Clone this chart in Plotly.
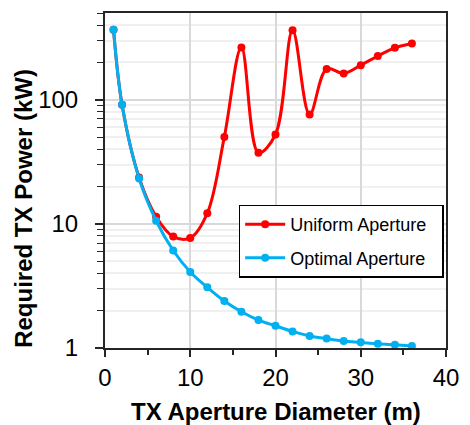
import plotly.graph_objects as go

diam = [1, 2, 4, 6, 8, 10, 12, 14, 16, 18, 20, 22, 24, 26, 28, 30, 32, 34, 36]
uniform_kw = [367, 91, 23.6, 11.4, 7.9, 7.7, 12.2, 50.2, 264, 37.4, 52.5, 363, 75.9, 177, 163, 190, 225, 262, 284]
optimal_kw = [367, 91, 23.2, 10.6, 6.1, 4.1, 3.08, 2.39, 1.96, 1.68, 1.51, 1.36, 1.25, 1.19, 1.14, 1.11, 1.08, 1.06, 1.04]

FONT = "Arial, Liberation Sans, sans-serif"
PAD = "\u00a0\u00a0"

fig = go.Figure()
fig.add_trace(go.Scatter(
    x=diam, y=uniform_kw, name="Uniform Aperture" + PAD, mode="lines+markers",
    line=dict(color="#ff0000", width=3, shape="spline", smoothing=1),
    marker=dict(color="#ff0000", size=8), legendgroup="u"))
fig.add_trace(go.Scatter(
    x=diam, y=optimal_kw, name="Optimal Aperture" + PAD, mode="lines+markers",
    line=dict(color="#00b0f0", width=3, shape="spline", smoothing=1),
    marker=dict(color="#00b0f0", size=8), legendgroup="o"))

fig.update_layout(
    width=470, height=425,
    margin=dict(l=105, r=14, t=11, b=77),
    paper_bgcolor="white", plot_bgcolor="white",
    font=dict(family=FONT, size=24, color="black"),
    showlegend=True,
    legend=dict(x=0.392, y=0.428, xanchor="left", yanchor="top",
                bgcolor="white", bordercolor="black", borderwidth=1.5,
                font=dict(size=18, family=FONT), tracegroupgap=7,
                itemwidth=40),
    xaxis=dict(range=[0, 40], dtick=10, tick0=0,
               showline=True, linecolor="#262626", linewidth=2, mirror=True,
               ticks="outside", ticklen=7, tickwidth=1.5, tickcolor="#262626",
               showgrid=True, gridcolor="#d9d9d9", gridwidth=1.5,
               zeroline=False,
               minor=dict(dtick=5, ticks="outside", ticklen=5, tickwidth=1.5,
                          tickcolor="#262626", showgrid=False),
               tickfont=dict(size=24)),
    yaxis=dict(type="log", range=[0, 2.699],
               tickvals=[1, 10, 100], ticktext=["1", "10", "100"],
               showline=True, linecolor="#262626", linewidth=2, mirror=True,
               ticks="outside", ticklen=8, tickwidth=1.5, tickcolor="#262626",
               showgrid=True, gridcolor="#d9d9d9", gridwidth=1.5,
               zeroline=False, ticklabelstandoff=12,
               minor=dict(dtick="D1", ticks="outside", ticklen=6, tickwidth=1,
                          tickcolor="#262626", showgrid=True,
                          gridcolor="#f0f0f0", gridwidth=1.5),
               tickfont=dict(size=24)),
    annotations=[
        dict(text="<b>TX Aperture Diameter (m)</b>", xref="paper", yref="paper",
             x=0.5, y=-0.19, xanchor="center", yanchor="middle", showarrow=False,
             font=dict(size=24, family=FONT)),
        dict(text="<b>Required TX Power (kW)</b>", xref="paper", yref="paper",
             x=-0.238, y=0.418, xanchor="center", yanchor="middle", showarrow=False,
             textangle=-90, font=dict(size=24, family=FONT)),
    ],
)

fig.write_html("out.html")
